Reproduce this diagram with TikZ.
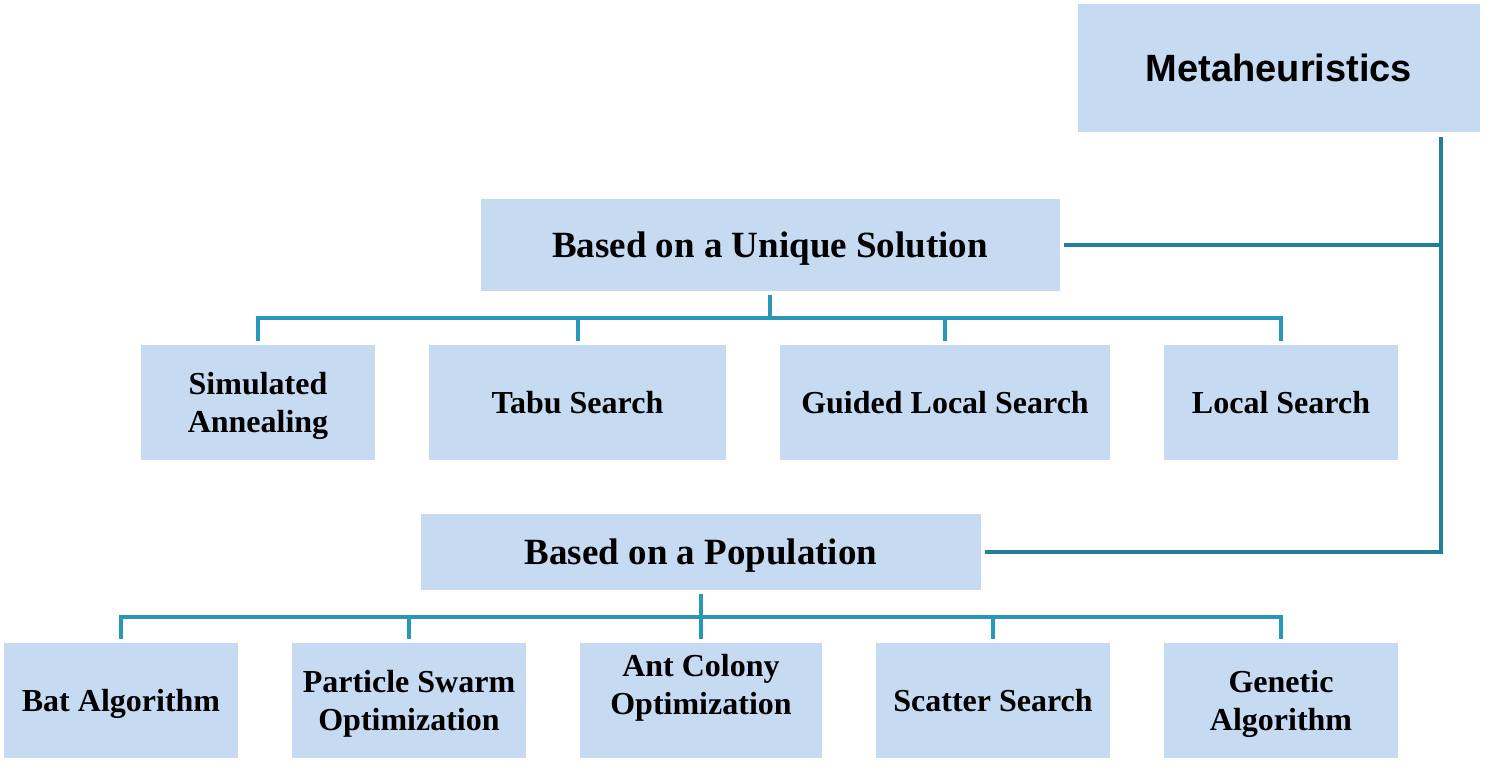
\documentclass[tikz,border=0pt]{standalone}
\usepackage{fontspec}
\usepackage{xcolor}
\usepackage{tikz}
\setmainfont{Liberation Serif}
\newfontfamily\headfont{Liberation Sans}
\usetikzlibrary{positioning,calc}

\definecolor{boxblue}{HTML}{C6DBF2}
\definecolor{spineteal}{HTML}{217F9A}
\definecolor{treeteal}{HTML}{2B97B8}

\tikzset{
    box/.style={fill=boxblue, inner sep=0pt, align=center, text depth=0pt, font=\bfseries\fontsize{16}{19}\selectfont},
    leafbox/.style={box, minimum width=#1*0.5pt, minimum height=57.5pt},
    groupbox/.style={box, font=\bfseries\fontsize{18.5}{22}\selectfont},
    spine/.style={draw=spineteal, line width=2pt},
    branch/.style={draw=treeteal, line width=2pt}
}

\begin{document}
\begin{tikzpicture}[x=0.5pt, y=-0.5pt]
    \useasboundingbox (0,0) rectangle (1502,772);

    % Root
    \node[box, minimum width=201pt, minimum height=64pt, font=\headfont\bfseries\fontsize{19}{23}\selectfont] (meta) at (1279,68) {Metaheuristics};

    % Two families
    \node[groupbox, minimum width=289.5pt, minimum height=46pt] (uniq) at (770,245) {Based on a Unique Solution};
    \node[groupbox, minimum width=280pt, minimum height=38pt] (pop) at (701,552) {Based on a Population};

    % Unique solution methods
    \node[leafbox=234] (sa) at (258,402.5) {Simulated\\Annealing};
    \node[leafbox=297] (tabu) at (577.5,402.5) {Tabu Search};
    \node[leafbox=330] (gls) at (945,402.5) {Guided Local Search};
    \node[leafbox=234] (ls) at (1281,402.5) {Local Search};

    % Population methods
    \node[leafbox=234] (bat) at (121,700.5) {Bat Algorithm};
    \node[leafbox=234] (pso) at (409,700.5) {Particle Swarm\\Optimization};
    \node[leafbox=242, label={[box, fill=none, yshift=8pt]center:Ant Colony\\Optimization}] (aco) at (701,700.5) {};
    \node[leafbox=234] (ss) at (993,700.5) {Scatter Search};
    \node[leafbox=234] (ga) at (1281,700.5) {Genetic\\Algorithm};

    % Spine from the root
    \coordinate (spinetop) at (1441,137);
    \coordinate (spinebot) at (1441,552);
    \draw[spine] (spinetop) -- (spinebot) -- ([xshift=2pt]pop.east);
    \draw[spine] ([xshift=2pt]uniq.east) -- (uniq.east -| spinetop);

    % Tree under the unique solution
    \coordinate (uniqbus) at (769,318);
    \draw[branch] ([yshift=-2pt]uniq.south) -- (uniq.south |- uniqbus);
    \draw[branch] ([yshift=2pt]sa.north) |- (uniqbus -| ls.north) -- ([yshift=2pt]ls.north);
    \foreach \n in {tabu,gls}
        \draw[branch] (uniqbus -| \n.north) -- ([yshift=2pt]\n.north);

    % Tree under the population
    \coordinate (popbus) at (701,617);
    \draw[branch] ([yshift=-2pt]pop.south) -- (pop.south |- popbus);
    \draw[branch] ([yshift=2pt]bat.north) |- (popbus -| ga.north) -- ([yshift=2pt]ga.north);
    \foreach \n in {pso,aco,ss}
        \draw[branch] (popbus -| \n.north) -- ([yshift=2pt]\n.north);
\end{tikzpicture}
\end{document}
